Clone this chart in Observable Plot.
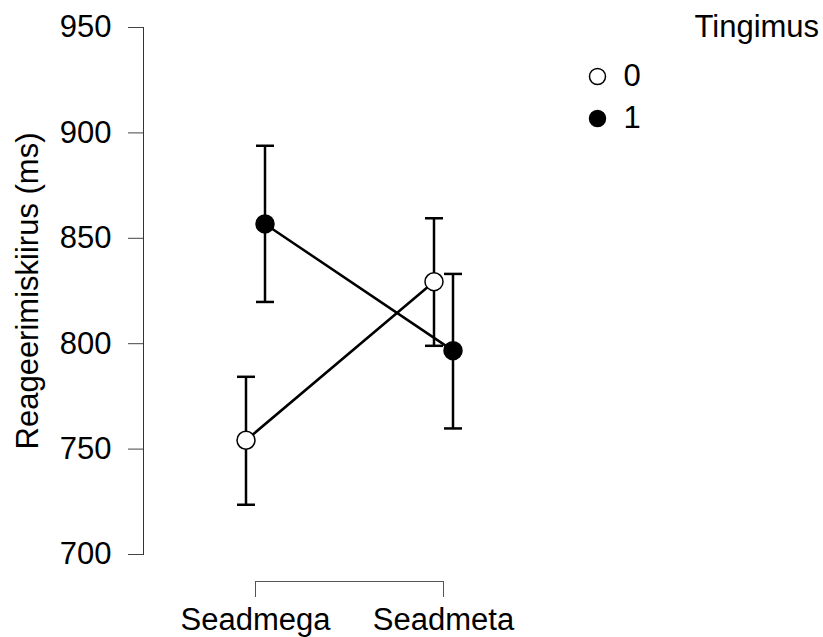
<!DOCTYPE html>
<html>
<head>
<meta charset="utf-8">
<script src="https://cdn.jsdelivr.net/npm/d3@7"></script>
<script src="https://cdn.jsdelivr.net/npm/@observablehq/plot@0.6"></script>
<style>
  html, body { margin: 0; padding: 0; background: #fff; }
  #chart svg { display: block; }
</style>
</head>
<body>
<div id="chart"></div>
<script>
// ---- data ----
const categories = ["Seadmega", "Seadmeta"];
const groups = ["0", "1"];
const groupFill = ["white", "black"];
const mean0 = [754.2, 829.4];
const lower0 = [723.6, 799.0];
const upper0 = [784.3, 859.5];
const mean1 = [856.8, 796.7];
const lower1 = [819.8, 759.8];
const upper1 = [893.9, 833.1];
const yTicks = [700, 750, 800, 850, 900, 950];
const legendTitle = "Tingimus";
const yLabel = "Reageerimiskiirus (ms)";

const series = [
  {mean: mean0, lower: lower0, upper: upper0},
  {mean: mean1, lower: lower1, upper: upper1}
];
const rows = [];
groups.forEach((g, gi) => {
  categories.forEach((c, ci) => {
    rows.push({group: g, cat: c, mean: series[gi].mean[ci], lo: series[gi].lower[ci], hi: series[gi].upper[ci]});
  });
});

const font = "'Liberation Sans', Arial, sans-serif";
const fs = 31;
const dodge = 9.5;
const capSymbol = {
  draw(ctx, size) {
    const w = Math.sqrt(size / Math.PI);
    ctx.moveTo(-w, 0);
    ctx.lineTo(w, 0);
  }
};

const groupMarks = groups.flatMap((g, gi) => {
  const data = rows.filter(d => d.group === g);
  const dx = gi === 0 ? -dodge : dodge;
  return [
    Plot.line(data, {x: "cat", y: "mean", dx, stroke: "black", strokeWidth: 2.5}),
    Plot.ruleX(data, {x: "cat", y1: "lo", y2: "hi", dx, stroke: "black", strokeWidth: 2.5})
  ];
});
const capMarks = groups.flatMap((g, gi) => {
  const data = rows.filter(d => d.group === g);
  const dx = gi === 0 ? -dodge : dodge;
  return [
    Plot.dot(data, {x: "cat", y: "lo", dx, symbol: capSymbol, r: 9, fill: "none", stroke: "black", strokeWidth: 2.5}),
    Plot.dot(data, {x: "cat", y: "hi", dx, symbol: capSymbol, r: 9, fill: "none", stroke: "black", strokeWidth: 2.5})
  ];
});
const pointMarks = groups.map((g, gi) => {
  const data = rows.filter(d => d.group === g);
  const dx = gi === 0 ? -dodge : dodge;
  return Plot.dot(data, {x: "cat", y: "mean", dx, r: 9, fill: groupFill[gi], stroke: "black", strokeWidth: 1.5});
});

const legendMarks = [
  Plot.text([legendTitle], {text: d => d, frameAnchor: "top-left", dx: 551, dy: 0, textAnchor: "start", lineAnchor: "middle", fontSize: fs, fill: "black"}),
  ...groups.flatMap((g, gi) => [
    Plot.dot([g], {frameAnchor: "top-left", dx: 454, dy: 49 + gi * 42, r: 8, fill: groupFill[gi], stroke: "black", strokeWidth: 1.5}),
    Plot.text([g], {text: d => d, frameAnchor: "top-left", dx: 480, dy: 49 + gi * 42, textAnchor: "start", lineAnchor: "middle", fontSize: fs, fill: "black"})
  ])
];

const chart = Plot.plot({
  width: 823,
  height: 637,
  marginLeft: 143,
  marginRight: 0,
  marginTop: 27,
  marginBottom: 83,
  style: {fontFamily: font, fontSize: fs + "px", color: "black", background: "white"},
  x: {type: "point", domain: categories, range: [255, 443], padding: 0},
  y: {domain: [700, 950]},
  marks: [
    Plot.frame({anchor: "left", stroke: "#333", strokeWidth: 1}),
    Plot.axisY({ticks: yTicks, tickSize: 15, tickPadding: 17, label: null, fontSize: fs, stroke: "#444", fill: "black"}),
    Plot.text([yLabel], {text: d => d, frameAnchor: "left", dx: -115, rotate: -90, textAnchor: "middle", lineAnchor: "middle", fontSize: fs, fill: "black"}),
    Plot.axisX({tickSize: 16, tickPadding: 10, dy: 27, label: null, fontSize: fs, stroke: "#555", fill: "black"}),
    Plot.ruleY([yTicks[0]], {x1: () => categories[0], x2: () => categories[categories.length - 1], dy: 27, stroke: "#555", strokeWidth: 1}),
    ...groupMarks,
    ...capMarks,
    ...pointMarks,
    ...legendMarks
  ]
});
document.getElementById("chart").appendChild(chart);
</script>
</body>
</html>
